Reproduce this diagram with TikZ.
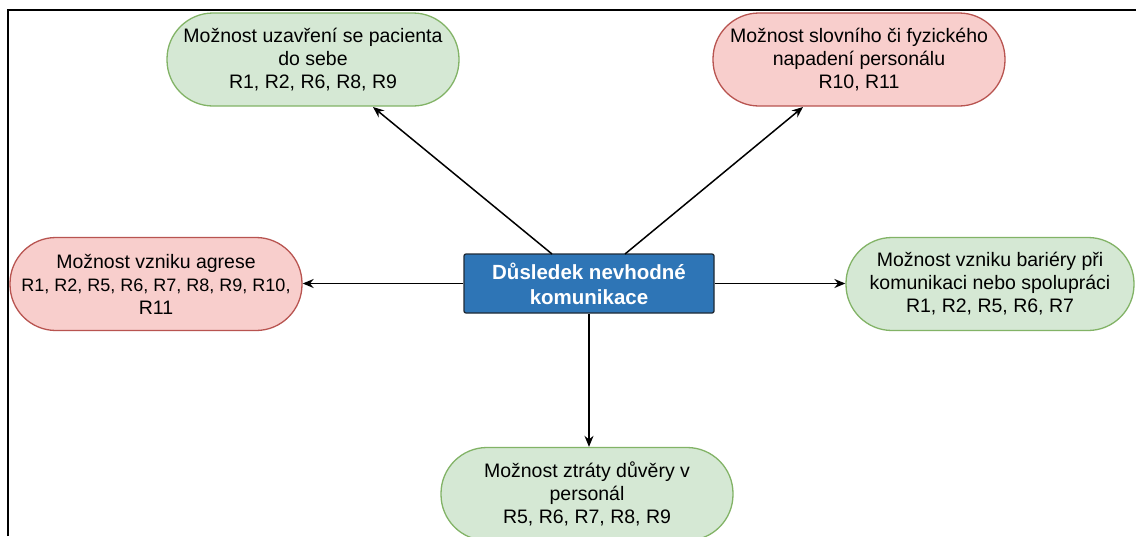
\documentclass[tikz,border=0pt]{standalone}
\usepackage{fontspec}
\setmainfont{Liberation Sans}
\usetikzlibrary{arrows.meta}
\definecolor{gfill}{HTML}{D5E8D4}
\definecolor{gline}{HTML}{82B366}
\definecolor{rfill}{HTML}{F8CECC}
\definecolor{rline}{HTML}{B85450}
\definecolor{bfill}{HTML}{2E75B6}
\definecolor{bline}{HTML}{1F2A36}
\begin{document}
\begin{tikzpicture}[x=1pt,y=-1pt,
  every node/.style={font=\fontsize{19.5}{23}\selectfont, align=center, inner sep=0pt},
  pill/.style={rectangle, rounded corners=46pt, minimum width=292pt, minimum height=93pt, line width=1.3pt},
  greenpill/.style={pill, fill=gfill, draw=gline},
  redpill/.style={pill, fill=rfill, draw=rline},
  mainbox/.style={rectangle, rounded corners=2pt, fill=bfill, draw=bline, line width=1.3pt,
    minimum width=250pt, minimum height=59pt, text=white, font=\fontsize{20.5}{25}\selectfont\bfseries},
  conn/.style={line width=1.5pt, -{Stealth[length=11pt,width=9pt]}}
]
\clip (0,0) rectangle (1136,536);
\fill[white] (0,0) rectangle (1136,536);
\draw[line width=2.2pt] (8,536) -- (8,10) -- (1136,10);

\node[mainbox] (c) at (589,283.5) {Důsledek nevhodné\\komunikace};
\node[greenpill] (tl) at (313,59.5) {Možnost uzavření se pacienta\\do sebe\\R1, R2, R6, R8, R9};
\node[redpill] (tr) at (859,59.5) {Možnost slovního či fyzického\\napadení personálu\\R10, R11};
\node[redpill] (l) at (156,284) {Možnost vzniku agrese\\{\fontsize{18}{23}\selectfont R1, R2, R5, R6, R7, R8, R9, R10,}\\R11};
\node[greenpill, minimum width=288pt] (r) at (990,284) {Možnost vzniku bariéry při\\komunikaci nebo spolupráci\\R1, R2, R5, R6, R7};
\node[greenpill] (b) at (587,494) {Možnost ztráty důvěry v\\personál\\R5, R6, R7, R8, R9};

\coordinate (ctl) at (552,254);
\coordinate (ctr) at (625,254);
\coordinate (tlend) at (373,107);
\coordinate (trend) at (803,107);
\draw[conn] (ctl) -- (tlend);
\draw[conn] (ctr) -- (trend);
\draw[conn] (c.west) -- (c.west -| l.east);
\draw[conn] (c.east) -- (c.east -| r.west);
\draw[conn] (c.south) -- (c.south |- b.north);
\end{tikzpicture}
\end{document}
